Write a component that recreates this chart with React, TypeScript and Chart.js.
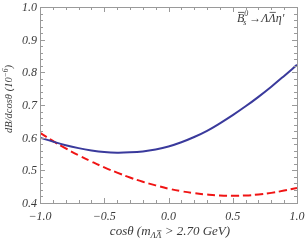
import React, { useEffect, useRef } from "react";
import { Chart, registerables } from "chart.js";
Chart.register(...registerables);

const cosTheta = [-1.0, -0.9, -0.8, -0.7, -0.6, -0.5, -0.4, -0.3, -0.2, -0.1, 0.0, 0.1, 0.2, 0.3, 0.4, 0.5, 0.6, 0.7, 0.8, 0.9, 1.0];
const blueSeries = [0.600, 0.588, 0.577, 0.568, 0.561, 0.556, 0.554, 0.555, 0.558, 0.564, 0.573, 0.586, 0.602, 0.621, 0.644, 0.669, 0.696, 0.725, 0.756, 0.789, 0.823];
const redSeries = [0.615, 0.590, 0.567, 0.546, 0.527, 0.509, 0.493, 0.478, 0.465, 0.454, 0.444, 0.436, 0.430, 0.426, 0.423, 0.422, 0.423, 0.426, 0.431, 0.438, 0.446];
const xTicks = [-1.0, -0.5, 0.0, 0.5, 1.0];
const xTickLabels = ["\u22121.0", "\u22120.5", "0.0", "0.5", "1.0"];
const yTicks = [0.4, 0.5, 0.6, 0.7, 0.8, 0.9, 1.0];
const yTickLabels = ["0.4", "0.5", "0.6", "0.7", "0.8", "0.9", "1.0"];

const FONT = "'Liberation Serif', 'DejaVu Serif', serif";
const FRAME = "#9a9a9a";
const TEXT = "#3a3a3a";

type Run = { t: string; size: number; dy?: number; over?: boolean };

function runWidth(ctx: CanvasRenderingContext2D, runs: Run[]) {
  let w = 0;
  for (const r of runs) {
    ctx.font = `italic ${r.size}px ${FONT}`;
    w += ctx.measureText(r.t).width;
  }
  return w;
}

function drawRuns(ctx: CanvasRenderingContext2D, runs: Run[], x: number, y: number) {
  let cx = x;
  for (const r of runs) {
    ctx.font = `italic ${r.size}px ${FONT}`;
    const w = ctx.measureText(r.t).width;
    ctx.fillText(r.t, cx, y + (r.dy || 0));
    if (r.over) {
      ctx.save();
      ctx.strokeStyle = TEXT;
      ctx.lineWidth = 0.8;
      ctx.beginPath();
      const oy = y + (r.dy || 0) - r.size * 0.8;
      ctx.moveTo(cx + 1, oy);
      ctx.lineTo(cx + w, oy);
      ctx.stroke();
      ctx.restore();
    }
    cx += w;
  }
  return cx;
}

const framePlugin = {
  id: "mmaFrame",
  afterDraw(chart: any) {
    const ctx: CanvasRenderingContext2D = chart.ctx;
    const { left, right, top, bottom } = chart.chartArea;
    const xs = chart.scales.x;
    const ys = chart.scales.y;
    ctx.save();
    ctx.strokeStyle = FRAME;
    ctx.lineWidth = 1;
    ctx.strokeRect(Math.round(left) + 0.5, Math.round(top) + 0.5, Math.round(right - left), Math.round(bottom - top));
    for (let i = -10; i <= 10; i++) {
      const v = i / 10;
      const px = Math.round(xs.getPixelForValue(v)) + 0.5;
      const major = i % 5 === 0;
      const len = major ? 5 : 3;
      ctx.beginPath();
      ctx.moveTo(px, bottom);
      ctx.lineTo(px, bottom - len);
      ctx.moveTo(px, top);
      ctx.lineTo(px, top + len);
      ctx.stroke();
    }
    for (let i = 20; i <= 50; i++) {
      const v = i / 50;
      const py = Math.round(ys.getPixelForValue(v)) + 0.5;
      const major = i % 5 === 0;
      const len = major ? 5 : 3;
      ctx.beginPath();
      ctx.moveTo(left, py);
      ctx.lineTo(left + len, py);
      ctx.moveTo(right, py);
      ctx.lineTo(right - len, py);
      ctx.stroke();
    }
    ctx.fillStyle = TEXT;
    ctx.font = `italic 12px ${FONT}`;
    ctx.textBaseline = "alphabetic";
    ctx.textAlign = "center";
    xTicks.forEach((v, i) => {
      ctx.fillText(xTickLabels[i], xs.getPixelForValue(v), bottom + 17);
    });
    ctx.textAlign = "right";
    yTicks.forEach((v, i) => {
      ctx.fillText(yTickLabels[i], left - 3, ys.getPixelForValue(v) + 4);
    });
    ctx.textAlign = "left";
    // x title
    const xRuns: Run[] = [
      { t: "cos\u03B8 (m", size: 13 },
      { t: "\u039B", size: 9, dy: 3 },
      { t: "\u039B", size: 9, dy: 3, over: true },
      { t: " > 2.70 GeV)", size: 13 },
    ];
    const xw = runWidth(ctx, xRuns);
    drawRuns(ctx, xRuns, 170 - xw / 2, 235);
    // y title
    const yRuns: Run[] = [
      { t: "dB/dcos\u03B8 (10", size: 10.5 },
      { t: "\u22126", size: 7.5, dy: -4 },
      { t: ")", size: 10.5 },
    ];
    const yw = runWidth(ctx, yRuns);
    ctx.save();
    ctx.translate(12, 99);
    ctx.rotate(-Math.PI / 2);
    drawRuns(ctx, yRuns, -yw / 2, 0);
    ctx.restore();
    // legend label
    let lx = 237;
    const ly = 22;
    lx = drawRuns(ctx, [{ t: "B", size: 12, over: true }], lx, ly);
    ctx.font = `italic 8px ${FONT}`;
    ctx.fillText("0", lx, ly - 6);
    ctx.fillText("s", lx - 1, ly + 3);
    lx += 5;
    drawRuns(ctx, [
      { t: "\u2192\u039B", size: 12 },
      { t: "\u039B", size: 12, over: true },
      { t: "\u03B7\u2032", size: 12 },
    ], lx, ly);
    ctx.restore();
  },
};

export default function App() {
  const ref = useRef<HTMLCanvasElement>(null);
  useEffect(() => {
    if (!ref.current) return;
    const chart = new Chart(ref.current, {
      type: "line",
      data: {
        datasets: [
          {
            data: cosTheta.map((x, i) => ({ x, y: blueSeries[i] })),
            borderColor: "#3a3a9c",
            borderWidth: 2,
            pointRadius: 0,
            tension: 0.4,
            fill: false,
          },
          {
            data: cosTheta.map((x, i) => ({ x, y: redSeries[i] })),
            borderColor: "#f01414",
            borderWidth: 2,
            borderDash: [8, 4],
            pointRadius: 0,
            tension: 0.4,
            fill: false,
          },
        ],
      },
      options: {
        animation: false,
        responsive: false,
        maintainAspectRatio: false,
        layout: { padding: { left: 40, right: 8, top: 7, bottom: 37 } },
        plugins: { legend: { display: false }, tooltip: { enabled: false } },
        scales: {
          x: { type: "linear", min: -1, max: 1, display: false },
          y: { type: "linear", min: 0.4, max: 1.0, display: false },
        },
      },
      plugins: [framePlugin],
    });
    return () => chart.destroy();
  }, []);
  return (
    <div style={{ position: "fixed", left: 0, top: 0, width: 305, height: 240, background: "#fff" }}>
      <canvas ref={ref} width={305} height={240} style={{ width: 305, height: 240 }} />
    </div>
  );
}
